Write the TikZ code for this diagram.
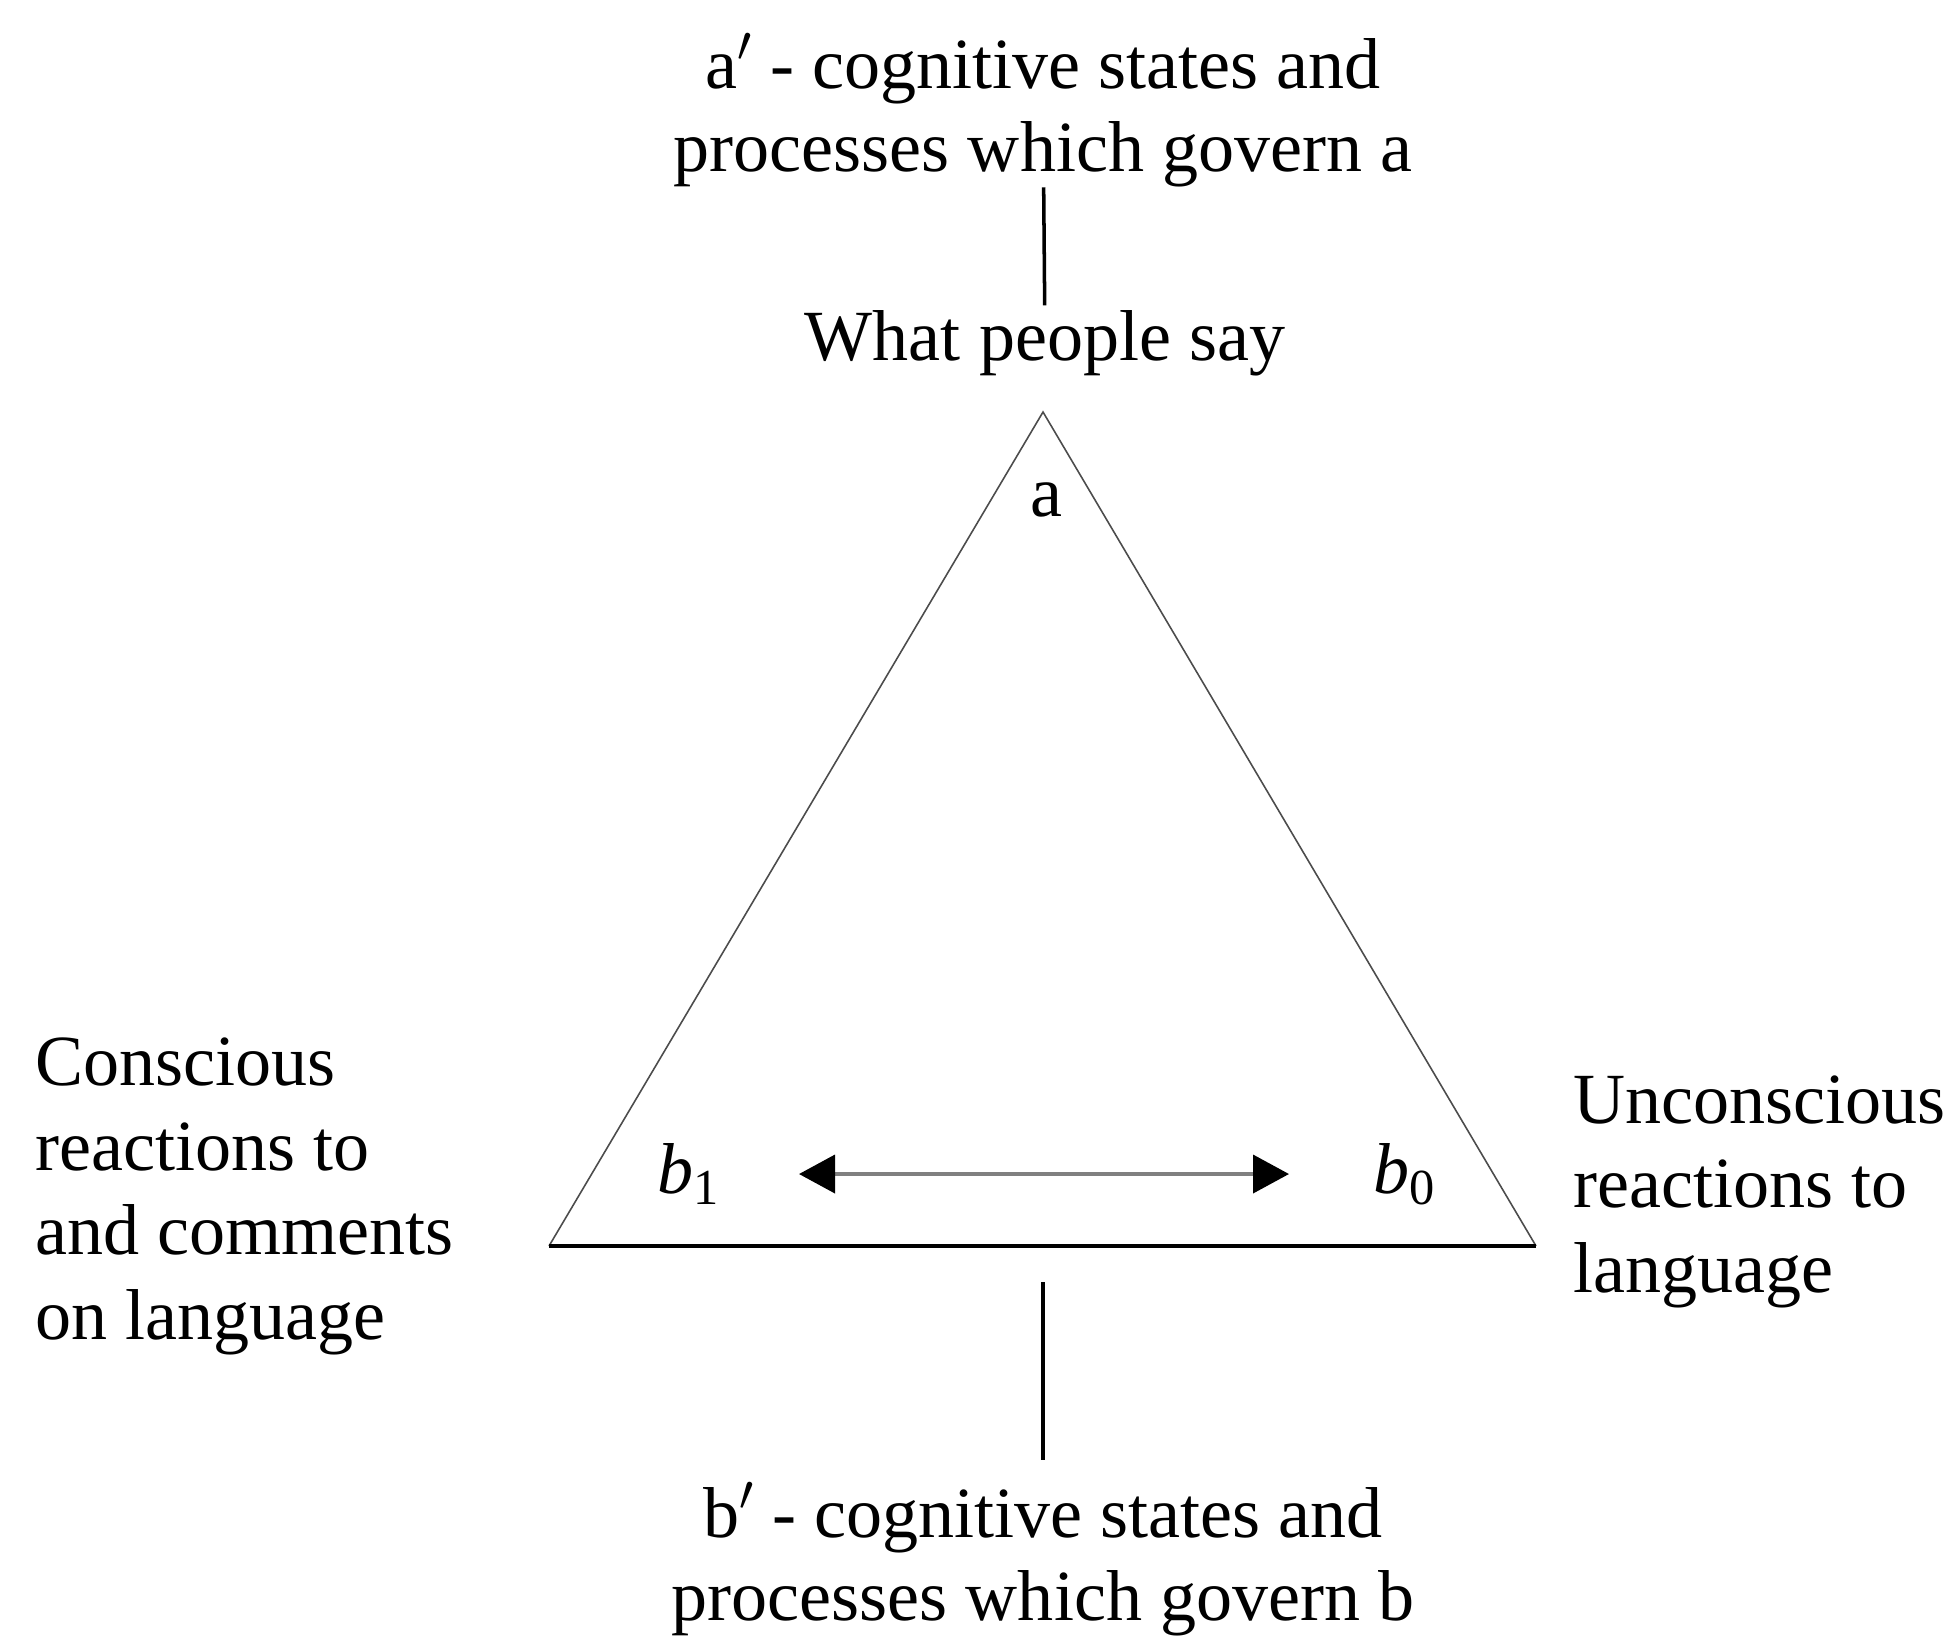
\documentclass[tikz,border=0pt]{standalone}
\usepackage{fontspec}
\setmainfont{Liberation Serif}
\usepackage{tikz}
\usetikzlibrary{arrows.meta}

\tikzset{
  lbl/.style={inner sep=0pt, font=\fontsize{20.5}{23.5}\selectfont},
  side/.style={draw=black!70, line width=0.45pt},
  baseline/.style={draw=black, line width=1.1pt},
  link/.style={draw=black, line width=1pt},
  dblarrow/.style={draw=black!50, line width=1.1pt,
    {Triangle[length=0.36cm,width=0.38cm,color=black]}-{Triangle[length=0.36cm,width=0.38cm,color=black]}}
}

\begin{document}
\begin{tikzpicture}
          \useasboundingbox (0,0) rectangle (19.58,-16.36);
          % triangle
          \coordinate (apex) at (10.43,-4.12);
          \coordinate (left) at (5.49,-12.46);
          \coordinate (right) at (15.36,-12.46);
          \coordinate (basemid) at (10.43,-12.46);
          \draw[side] (left) -- (apex) -- (right);
          \draw[baseline] (left) -- (right);
          % corner labels
          \node[lbl] (a) at (10.46,-5.00) {a};
          \node[lbl] (b1) at (6.89,-11.74) {\textit{b}\textsubscript{1}};
          \node[lbl] (b0) at (14.05,-11.74) {\textit{b}\textsubscript{0}};
          \draw[dblarrow, shorten <=1.10cm, shorten >=1.16cm] (b1.center) -- (b0.center);
          % top and bottom notes
          \node[lbl, align=center, anchor=base] (topnote) at (10.43,-1.71) {a$'$ - cognitive states and\\processes which govern a};
          \node[lbl, anchor=base] (say) at (10.45,-3.60) {What people say};
          \node[lbl, align=center, anchor=base] (botnote) at (10.43,-16.20) {b$'$ - cognitive states and\\processes which govern b};
          \draw[link, shorten >=0.04cm] (topnote) -- (say);
          \draw[link, shorten <=0.36cm, shorten >=0.22cm] (basemid) -- (botnote);
          % side notes
          \node[lbl, align=left, anchor=base west, font=\fontsize{20.5}{24}\selectfont] (conscious) at (0.35,-13.39) {Conscious\\reactions to\\and comments\\on language};
          \node[lbl, align=left, anchor=base west, font=\fontsize{20.5}{24}\selectfont] (unconscious) at (15.73,-12.92) {Unconscious\\reactions to\\language};
\end{tikzpicture}
\end{document}
